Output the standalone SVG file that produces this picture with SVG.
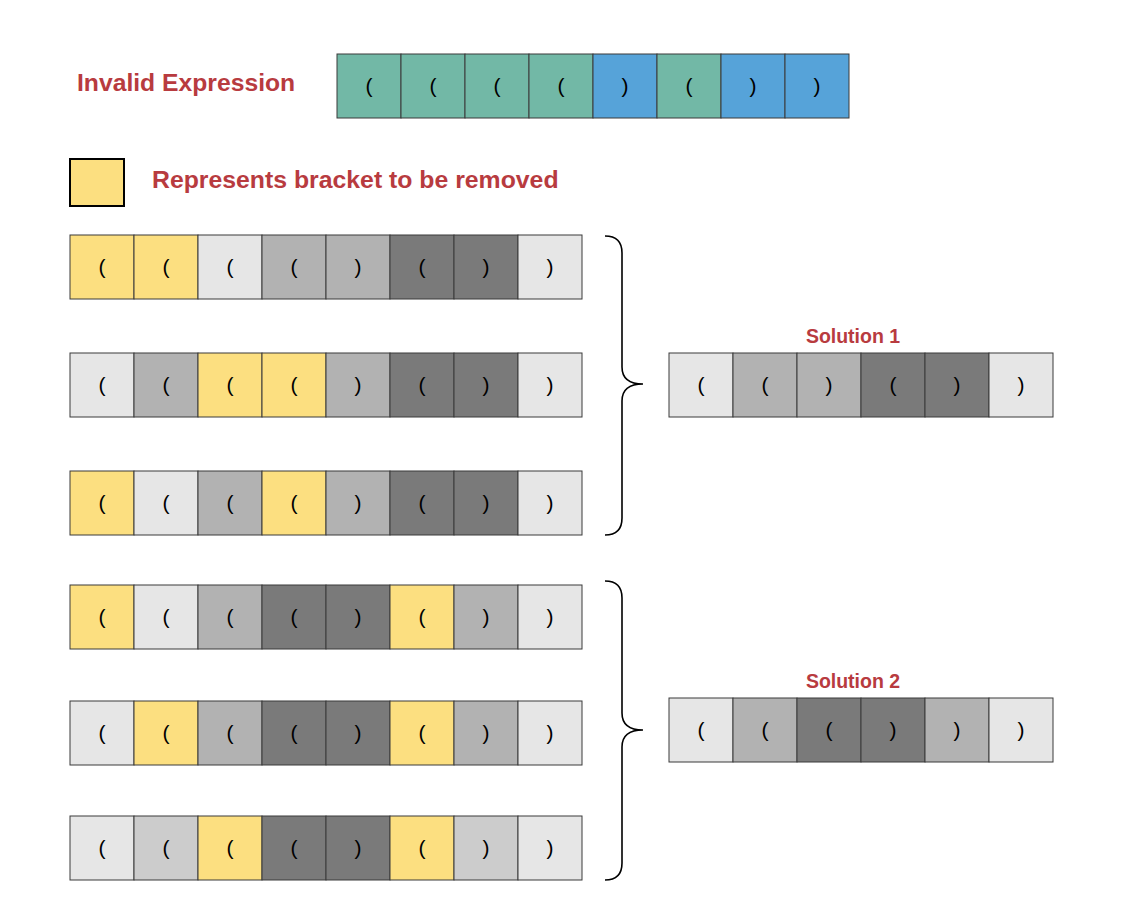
<svg xmlns="http://www.w3.org/2000/svg" width="1132" height="916" viewBox="0 0 1132 916">
<style>
.c{stroke:#3a3a3a;stroke-width:1}
.t{fill:#72b8a6}.b{fill:#56a3d9}.y{fill:#fcdf80}.l{fill:#e6e6e6}.m{fill:#b2b2b2}.d{fill:#7a7a7a}.g{fill:#cccccc}
.br{font-family:"Liberation Sans",Arial,sans-serif;font-size:21px;fill:#000;text-anchor:middle}
.h{font-family:"Liberation Sans",Arial,sans-serif;font-weight:bold;fill:#b83b3f}
.brace{fill:none;stroke:#000;stroke-width:1.6}
</style>
<rect width="1132" height="916" fill="#fff"/>
<text class="h" x="77" y="91" font-size="24.7">Invalid Expression</text>
<g id="expr" transform="translate(337,54)">
<rect class="c t" x="0" y="0" width="64" height="64"/><rect class="c t" x="64" y="0" width="64" height="64"/><rect class="c t" x="128" y="0" width="64" height="64"/><rect class="c t" x="192" y="0" width="64" height="64"/><rect class="c b" x="256" y="0" width="64" height="64"/><rect class="c t" x="320" y="0" width="64" height="64"/><rect class="c b" x="384" y="0" width="64" height="64"/><rect class="c b" x="448" y="0" width="64" height="64"/>
<text class="br" x="32" y="39">(</text><text class="br" x="96" y="39">(</text><text class="br" x="160" y="39">(</text><text class="br" x="224" y="39">(</text><text class="br" x="288" y="39">)</text><text class="br" x="352" y="39">(</text><text class="br" x="416" y="39">)</text><text class="br" x="480" y="39">)</text>
</g>
<g id="legend">
<rect class="y" x="70" y="159" width="54" height="47" stroke="#000" stroke-width="2"/>
<text class="h" x="152" y="188" font-size="24.8">Represents bracket to be removed</text>
</g>
<g id="row1" transform="translate(70,235)">
<rect class="c y" x="0" y="0" width="64" height="64"/><rect class="c y" x="64" y="0" width="64" height="64"/><rect class="c l" x="128" y="0" width="64" height="64"/><rect class="c m" x="192" y="0" width="64" height="64"/><rect class="c m" x="256" y="0" width="64" height="64"/><rect class="c d" x="320" y="0" width="64" height="64"/><rect class="c d" x="384" y="0" width="64" height="64"/><rect class="c l" x="448" y="0" width="64" height="64"/>
<text class="br" x="32" y="39">(</text><text class="br" x="96" y="39">(</text><text class="br" x="160" y="39">(</text><text class="br" x="224" y="39">(</text><text class="br" x="288" y="39">)</text><text class="br" x="352" y="39">(</text><text class="br" x="416" y="39">)</text><text class="br" x="480" y="39">)</text>
</g>
<g id="row2" transform="translate(70,353)">
<rect class="c l" x="0" y="0" width="64" height="64"/><rect class="c m" x="64" y="0" width="64" height="64"/><rect class="c y" x="128" y="0" width="64" height="64"/><rect class="c y" x="192" y="0" width="64" height="64"/><rect class="c m" x="256" y="0" width="64" height="64"/><rect class="c d" x="320" y="0" width="64" height="64"/><rect class="c d" x="384" y="0" width="64" height="64"/><rect class="c l" x="448" y="0" width="64" height="64"/>
<text class="br" x="32" y="39">(</text><text class="br" x="96" y="39">(</text><text class="br" x="160" y="39">(</text><text class="br" x="224" y="39">(</text><text class="br" x="288" y="39">)</text><text class="br" x="352" y="39">(</text><text class="br" x="416" y="39">)</text><text class="br" x="480" y="39">)</text>
</g>
<g id="row3" transform="translate(70,471)">
<rect class="c y" x="0" y="0" width="64" height="64"/><rect class="c l" x="64" y="0" width="64" height="64"/><rect class="c m" x="128" y="0" width="64" height="64"/><rect class="c y" x="192" y="0" width="64" height="64"/><rect class="c m" x="256" y="0" width="64" height="64"/><rect class="c d" x="320" y="0" width="64" height="64"/><rect class="c d" x="384" y="0" width="64" height="64"/><rect class="c l" x="448" y="0" width="64" height="64"/>
<text class="br" x="32" y="39">(</text><text class="br" x="96" y="39">(</text><text class="br" x="160" y="39">(</text><text class="br" x="224" y="39">(</text><text class="br" x="288" y="39">)</text><text class="br" x="352" y="39">(</text><text class="br" x="416" y="39">)</text><text class="br" x="480" y="39">)</text>
</g>
<g id="row4" transform="translate(70,585)">
<rect class="c y" x="0" y="0" width="64" height="64"/><rect class="c l" x="64" y="0" width="64" height="64"/><rect class="c m" x="128" y="0" width="64" height="64"/><rect class="c d" x="192" y="0" width="64" height="64"/><rect class="c d" x="256" y="0" width="64" height="64"/><rect class="c y" x="320" y="0" width="64" height="64"/><rect class="c m" x="384" y="0" width="64" height="64"/><rect class="c l" x="448" y="0" width="64" height="64"/>
<text class="br" x="32" y="39">(</text><text class="br" x="96" y="39">(</text><text class="br" x="160" y="39">(</text><text class="br" x="224" y="39">(</text><text class="br" x="288" y="39">)</text><text class="br" x="352" y="39">(</text><text class="br" x="416" y="39">)</text><text class="br" x="480" y="39">)</text>
</g>
<g id="row5" transform="translate(70,701)">
<rect class="c l" x="0" y="0" width="64" height="64"/><rect class="c y" x="64" y="0" width="64" height="64"/><rect class="c m" x="128" y="0" width="64" height="64"/><rect class="c d" x="192" y="0" width="64" height="64"/><rect class="c d" x="256" y="0" width="64" height="64"/><rect class="c y" x="320" y="0" width="64" height="64"/><rect class="c m" x="384" y="0" width="64" height="64"/><rect class="c l" x="448" y="0" width="64" height="64"/>
<text class="br" x="32" y="39">(</text><text class="br" x="96" y="39">(</text><text class="br" x="160" y="39">(</text><text class="br" x="224" y="39">(</text><text class="br" x="288" y="39">)</text><text class="br" x="352" y="39">(</text><text class="br" x="416" y="39">)</text><text class="br" x="480" y="39">)</text>
</g>
<g id="row6" transform="translate(70,816)">
<rect class="c l" x="0" y="0" width="64" height="64"/><rect class="c g" x="64" y="0" width="64" height="64"/><rect class="c y" x="128" y="0" width="64" height="64"/><rect class="c d" x="192" y="0" width="64" height="64"/><rect class="c d" x="256" y="0" width="64" height="64"/><rect class="c y" x="320" y="0" width="64" height="64"/><rect class="c g" x="384" y="0" width="64" height="64"/><rect class="c l" x="448" y="0" width="64" height="64"/>
<text class="br" x="32" y="39">(</text><text class="br" x="96" y="39">(</text><text class="br" x="160" y="39">(</text><text class="br" x="224" y="39">(</text><text class="br" x="288" y="39">)</text><text class="br" x="352" y="39">(</text><text class="br" x="416" y="39">)</text><text class="br" x="480" y="39">)</text>
</g>
<g id="connectors">
<path class="brace" d="M605,236 Q622,236 622,253 L622,367 Q622,384 643,384 Q622,384 622,401 L622,518 Q622,535 605,535"/>
<path class="brace" d="M605,581 Q622,581 622,598 L622,713 Q622,730 643,730 Q622,730 622,747 L622,863 Q622,880 605,880"/>
</g>
<g id="solution1">
<text class="h" x="853" y="343" font-size="19.5" text-anchor="middle">Solution 1</text>
<g transform="translate(669,353)">
<rect class="c l" x="0" y="0" width="64" height="64"/><rect class="c m" x="64" y="0" width="64" height="64"/><rect class="c m" x="128" y="0" width="64" height="64"/><rect class="c d" x="192" y="0" width="64" height="64"/><rect class="c d" x="256" y="0" width="64" height="64"/><rect class="c l" x="320" y="0" width="64" height="64"/>
<text class="br" x="32" y="39">(</text><text class="br" x="96" y="39">(</text><text class="br" x="160" y="39">)</text><text class="br" x="224" y="39">(</text><text class="br" x="288" y="39">)</text><text class="br" x="352" y="39">)</text>
</g>
</g>
<g id="solution2">
<text class="h" x="853" y="688" font-size="19.5" text-anchor="middle">Solution 2</text>
<g transform="translate(669,698)">
<rect class="c l" x="0" y="0" width="64" height="64"/><rect class="c m" x="64" y="0" width="64" height="64"/><rect class="c d" x="128" y="0" width="64" height="64"/><rect class="c d" x="192" y="0" width="64" height="64"/><rect class="c m" x="256" y="0" width="64" height="64"/><rect class="c l" x="320" y="0" width="64" height="64"/>
<text class="br" x="32" y="39">(</text><text class="br" x="96" y="39">(</text><text class="br" x="160" y="39">(</text><text class="br" x="224" y="39">)</text><text class="br" x="288" y="39">)</text><text class="br" x="352" y="39">)</text>
</g>
</g>
</svg>
